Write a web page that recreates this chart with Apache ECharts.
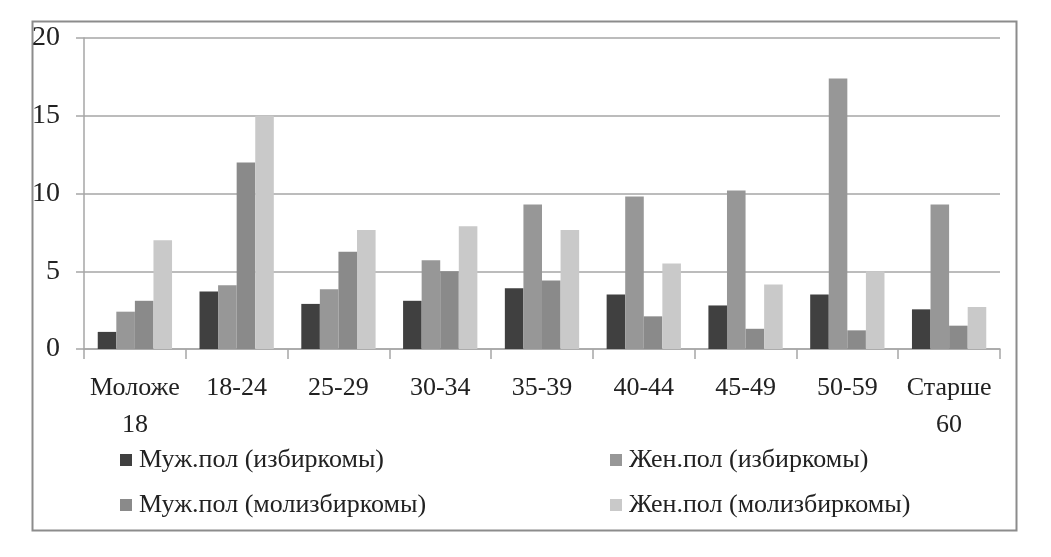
<!DOCTYPE html>
<html><head><meta charset="utf-8">
<script src="https://cdn.jsdelivr.net/npm/echarts@6/dist/echarts.min.js"></script>
<style>html,body{margin:0;padding:0;background:#fff}#c{width:1051px;height:557px}</style>
</head><body><div id="c"></div>
<script>
const categories = ["Моложе 18","18-24","25-29","30-34","35-39","40-44","45-49","50-59","Старше 60"];
const seriesNames = ["Муж.пол (избиркомы)","Жен.пол (избиркомы)","Муж.пол (молизбиркомы)","Жен.пол (молизбиркомы)"];
const menIzb = [1.1, 3.7, 2.9, 3.1, 3.9, 3.5, 2.8, 3.5, 2.55];
const womenIzb = [2.4, 4.1, 3.85, 5.7, 9.3, 9.8, 10.2, 17.4, 9.3];
const menMol = [3.1, 12.0, 6.25, 5.0, 4.4, 2.1, 1.3, 1.2, 1.5];
const womenMol = [7.0, 15.0, 7.65, 7.9, 7.65, 5.5, 4.15, 5.0, 2.7];
const yTicks = [0, 5, 10, 15, 20];

const colors = ["#404040", "#979797", "#8a8a8a", "#c9c9c9"];
const values = [menIzb, womenIzb, menMol, womenMol];
const font = '"Liberation Serif", "Times New Roman", serif';

const chart = echarts.init(document.getElementById('c'), null, {renderer: 'canvas'});
const legendPos = [
  {left: 115, top: 442}, {left: 605, top: 442},
  {left: 115, top: 487}, {left: 605, top: 487}
];
chart.setOption({
  animation: false,
  backgroundColor: '#fff',
  textStyle: {fontFamily: font},
  graphic: [{
    type: 'rect', left: 30, top: 19, z: -1,
    shape: {width: 984, height: 509},
    style: {fill: 'none', stroke: '#8c8c8c', lineWidth: 2}
  }],
  grid: {left: 84, right: 51, top: 38, bottom: 208, containLabel: false},
  legend: seriesNames.map((n, i) => ({
    data: [n], left: legendPos[i].left, top: legendPos[i].top,
    icon: 'rect', itemWidth: 12, itemHeight: 12, itemGap: 0,
    textStyle: {fontFamily: font, fontSize: 26, color: '#222', padding: [0, 0, 0, 2]}
  })),
  xAxis: {
    type: 'category', data: categories,
    axisLine: {lineStyle: {color: '#a6a6a6', width: 1.5}},
    axisTick: {show: true, length: 10, lineStyle: {color: '#a6a6a6', width: 1.5}},
    axisLabel: {
      fontFamily: font, fontSize: 26, color: '#222', margin: 21, lineHeight: 37,
      interval: 0,
      formatter: v => v.replace(' ', '\n')
    }
  },
  yAxis: {
    type: 'value', min: yTicks[0], max: yTicks[yTicks.length - 1], interval: 5,
    axisLine: {show: true, lineStyle: {color: '#a6a6a6', width: 1.5}},
    axisTick: {show: true, length: 8, lineStyle: {color: '#a6a6a6', width: 1.5}},
    splitLine: {lineStyle: {color: '#a6a6a6', width: 1.5}},
    axisLabel: {fontFamily: font, fontSize: 28, color: '#222', margin: 24}
  },
  series: seriesNames.map((n, i) => ({
    name: n, type: 'bar', data: values[i],
    itemStyle: {color: colors[i]},
    barGap: '0%', barCategoryGap: '27%'
  }))
});
</script></body></html>
